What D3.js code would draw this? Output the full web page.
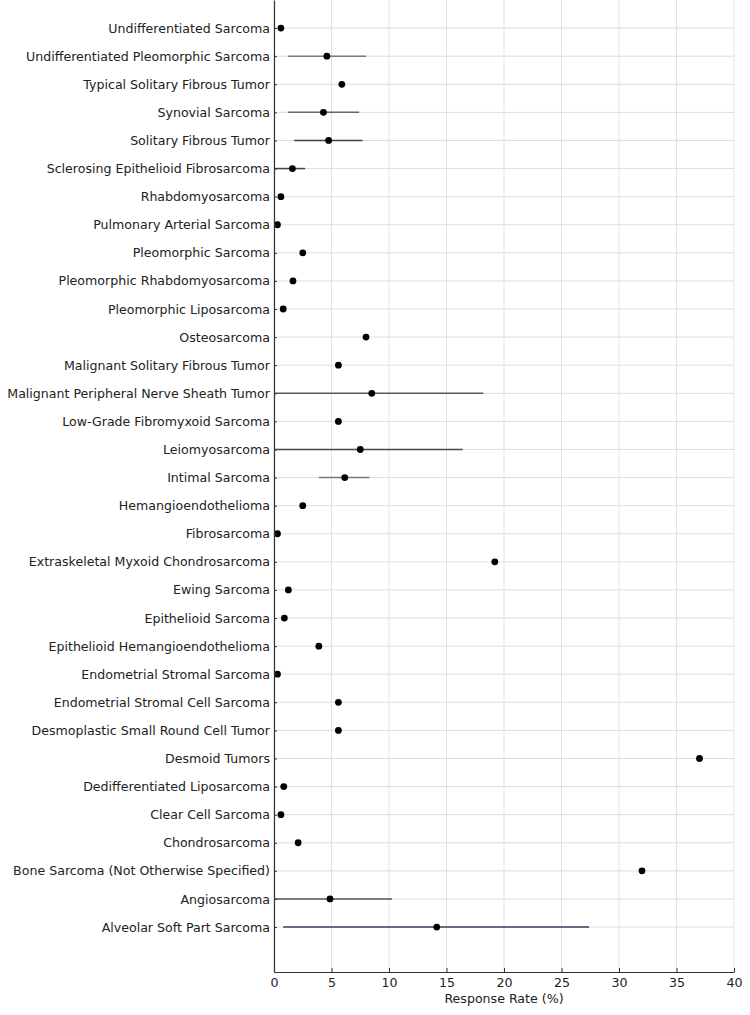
<!DOCTYPE html>
<html><head><meta charset="utf-8">
<script src="https://cdn.jsdelivr.net/npm/d3@7"></script>
<style>body{margin:0;background:#fff}svg{display:block}</style>
</head><body>
<svg id="c" width="750" height="1015"></svg>
<script>
const categories = [
"Alveolar Soft Part Sarcoma","Angiosarcoma","Bone Sarcoma (Not Otherwise Specified)","Chondrosarcoma",
"Clear Cell Sarcoma","Dedifferentiated Liposarcoma","Desmoid Tumors","Desmoplastic Small Round Cell Tumor",
"Endometrial Stromal Cell Sarcoma","Endometrial Stromal Sarcoma","Epithelioid Hemangioendothelioma",
"Epithelioid Sarcoma","Ewing Sarcoma","Extraskeletal Myxoid Chondrosarcoma","Fibrosarcoma",
"Hemangioendothelioma","Intimal Sarcoma","Leiomyosarcoma","Low-Grade Fibromyxoid Sarcoma",
"Malignant Peripheral Nerve Sheath Tumor","Malignant Solitary Fibrous Tumor","Osteosarcoma",
"Pleomorphic Liposarcoma","Pleomorphic Rhabdomyosarcoma","Pleomorphic Sarcoma","Pulmonary Arterial Sarcoma",
"Rhabdomyosarcoma","Sclerosing Epithelioid Fibrosarcoma","Solitary Fibrous Tumor","Synovial Sarcoma",
"Typical Solitary Fibrous Tumor","Undifferentiated Pleomorphic Sarcoma","Undifferentiated Sarcoma"];
const responseRate = [14.15,4.87,32.0,2.1,0.6,0.85,37.0,5.6,5.6,0.3,3.9,0.9,1.25,19.2,0.3,2.5,6.15,7.5,5.6,8.5,5.6,8.0,0.8,1.65,2.5,0.3,0.6,1.6,4.75,4.3,5.9,4.6,0.6];
const ciLow  = [0.8,0,null,null,null,null,null,null,null,null,null,null,null,null,null,null,3.9,0,null,0,null,null,null,null,null,null,null,0,1.75,1.2,null,1.2,null];
const ciHigh = [27.4,10.26,null,null,null,null,null,null,null,null,null,null,null,null,null,null,8.3,16.4,null,18.2,null,null,null,null,null,null,null,2.7,7.7,7.4,null,8.0,null];
const barColors = ["#3c3c5e","#585858","","","","","","","","","","","","","","","#777777","#46464e","","#5a5a5a","","","","","","","","#444444","#4e3c40","#666666","","#7a7a7a",""];
const xTicks = [0,5,10,15,20,25,30,35,40];

const svg = d3.select("#c");
const font = "DejaVu Sans, sans-serif";
const fs = 12.6;
const x = d3.scaleLinear().domain([0,40]).range([274,734]);
const y = d3.scaleLinear().domain([-1.6,33]).range([972,0]);

const g = svg.append("g");
// grid
g.selectAll(".vg").data(xTicks).join("line")
  .attr("x1",d=>x(d)).attr("x2",d=>x(d)).attr("y1",0).attr("y2",972)
  .attr("stroke","#dcdcdc").attr("stroke-width",0.8);
g.selectAll(".hg").data(categories).join("line")
  .attr("x1",x(0)).attr("x2",x(40)).attr("y1",(d,i)=>y(i)).attr("y2",(d,i)=>y(i))
  .attr("stroke","#d6d6d6").attr("stroke-width",0.8);

// error bars
const idx = d3.range(categories.length).filter(i=>ciLow[i]!==null);
g.selectAll(".eb").data(idx).join("line")
  .attr("x1",i=>x(ciLow[i])).attr("x2",i=>x(ciHigh[i]))
  .attr("y1",i=>y(i)).attr("y2",i=>y(i))
  .attr("stroke",i=>barColors[i]).attr("stroke-width",1.5);

// dots
g.selectAll(".dot").data(responseRate).join("circle")
  .attr("cx",d=>x(d)).attr("cy",(d,i)=>y(i)).attr("r",3.4).attr("fill","#000");

// axes
const xAxis = d3.axisBottom(x).tickValues(xTicks).tickSizeInner(-4).tickSizeOuter(0).tickPadding(6);
const ax = svg.append("g").attr("transform","translate(0,972)").call(xAxis);
ax.select(".domain").attr("stroke","#333").attr("stroke-width",1.2);
ax.selectAll(".tick line").attr("stroke","#333");
ax.selectAll("text").attr("font-family",font).attr("font-size",fs).attr("fill","#222");

const yAxis = d3.axisLeft(y).tickValues(d3.range(categories.length)).tickFormat(i=>categories[i])
  .tickSizeInner(-3).tickSizeOuter(0).tickPadding(4);
const ay = svg.append("g").attr("transform","translate(274,0)").call(yAxis);
ay.select(".domain").attr("stroke","#333").attr("stroke-width",1.2);
ay.selectAll(".tick line").attr("stroke","#333");
ay.selectAll("text").attr("font-family",font).attr("font-size",fs).attr("fill","#222");

svg.append("text").attr("x",504).attr("y",1003).attr("text-anchor","middle")
  .attr("font-family",font).attr("font-size",fs).attr("fill","#222").text("Response Rate (%)");
</script>
</body></html>
